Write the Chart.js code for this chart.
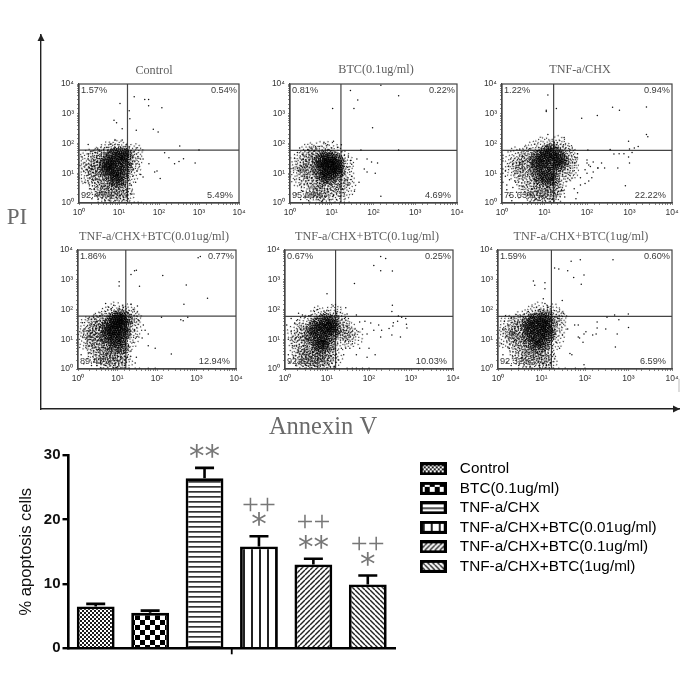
<!DOCTYPE html>
<html><head><meta charset="utf-8">
<script src="https://cdn.jsdelivr.net/npm/chart.js@4"></script>
<style>
html,body{margin:0;padding:0;background:#fff;width:685px;height:685px;overflow:hidden}
canvas{position:absolute;display:block}
canvas.flow{filter:blur(.45px)}
canvas.bars{filter:blur(.35px)}
</style></head><body>
<script>
// ---------- bar chart data ----------
const categories=["Control","BTC(0.1ug/ml)","TNF-a/CHX","TNF-a/CHX+BTC(0.01ug/ml)","TNF-a/CHX+BTC(0.1ug/ml)","TNF-a/CHX+BTC(1ug/ml)"];
const apoptosis=[6.5,5.5,26.4,15.8,13.0,9.9];
const errorTop=[6.9,5.85,28.0,17.4,13.9,11.3];
const upperMarks=["","","","++","++","++"];
const lowerMarks=["","","**","*","**","*"];
const barTicks=[0,10,20,30];

// ---------- flow panels ----------
const panelTitles=["Control","BTC(0.1ug/ml)","TNF-a/CHX","TNF-a/CHX+BTC(0.01ug/ml)","TNF-a/CHX+BTC(0.1ug/ml)","TNF-a/CHX+BTC(1ug/ml)"];
const upperLeft=["1.57%","0.81%","1.22%","1.86%","0.67%","1.59%"];
const upperRight=["0.54%","0.22%","0.94%","0.77%","0.25%","0.60%"];
const lowerLeft=["92.40%","95.68%","75.63%","89.43%","92.82%","92.32%"];
const lowerRight=["5.49%","4.69%","22.22%","12.94%","10.03%","6.59%"];
const gateX=[16.3,16.6,16.4,16.2,16.0,16.9];
const gateY=[60,59,59,60,59,59];

const controlCore=[5,13,5,24,6,9,6,17,6,33,7,6.5,7,12,7,22,7,42,9,8,9,15,9,28,9,46,9,5.5,12,10,12,19,12,34,12,47,12,6.5,15,14,15,26,15,40,4.5,18];
const controlMid=[2.5,8,2.5,20,3,4,3,12,3,30,4,2.5,4,7,4,40,6,3,6,2,9,3,9,2,12,3.5,14,2.2,20,10,20,25,22,45,3.5,18,1.6,10,1.7,28,10,60,5,50];
const controlDots=[24,3700,44,3000,55,3000,55,1860,118,1600,10.6,2200,18,1260,7.5,610,8.7,500,18.7,680,27,280,72,300,95,245,12,316,330,83,138,49,177,33,410,31,245,21,316,25,800,22,89,12,78,11,107,6.6,40,7.5,40,30,56,21,1000,60,1.7,93,
1.2,35,1.3,12,1.4,5,1.5,20,1.6,2,1.7,45,1.8,9,1.9,3,2,55,2,14,2.1,1.4,2.2,6,2.3,28,2.4,3,2.5,50,2.6,11,2.7,1.8,2.8,38,3,1.3,3,6,3.2,60,3.3,2.2,3.5,9,3.7,48,3.8,1.5,4,3.5,4.2,65,4.5,1.2,4.8,2.2,5,75,5.5,3,6,95,6,1.4,7,1.8,7.5,70,8,130,8,1.2,9,3.8,10,90,10,1.6,11,75,12,130,13,1.3,13,2.6,14,4,15,1.8,15,90,16,3,17,1.4,17,7,18,70,20,4,20,18,21,2,22,8,22,35,23,14,24,55,25,26,26,5,27,70,28,12,30,32,32,20,35,9,24,1.05,30,1.05,36,1.04,6,1.05,10,1.05,14,1.04,3,1.05,18,1.05];

const btcCore=[4.5,15,5,26,5.5,10,6,20,6,33,7,13,7,8,7,26,8,38,9,16,9,10,9,28,9,7,11,20,11,12,11,33,13,9,13,16,13,27,15,22,15,12,8,19,6,6.5];
const btcMid=[2.5,9,2.5,22,3,3.5,3,14,3.5,32,4,6,4,2,5,3,7,2.4,9,3.5,12,2,14,5,20,9,20,25,22,3,3,45,1.6,8,1.6,24,10,55,5,50];
const btcDots=[150,9000,42,2900,400,4000,10.5,1500,34,1500,95,340,28,6000,1.7,70,400,60,150,1.7,110,10,70,11,90,24,125,22,70,30,60,14,45,5,35,2.5,50,60,40,30,30,20,25,38,27,11,
1.2,15,1.3,32,1.3,6,1.4,2,1.5,50,1.6,12,1.7,4,1.8,1.3,1.9,28,2,42,2,2.5,2.2,8,2.3,1.5,2.4,18,2.6,4.5,2.8,60,2.8,1.2,3,2,3.2,38,3.3,7,3.6,1.5,3.8,55,4,3,4.2,70,4.4,1.6,5,80,5,2,6,1.2,6,3.5,6.5,110,7,1.6,7,65,8,2.8,8,90,9,1.3,10,4,10,70,11,1.8,11,120,12,5,13,2.8,13,1.3,14,75,15,4,15,1.7,16,6,17,90,18,12,18,3,20,2,20,40,22,6,24,16,26,4,28,27,30,8,3,1.05,6,1.05,9,1.05,12,1.05,16,1.05,20,1.05,26,1.05];

const tnfCore=[6,14,6,26,7,9,7,20,7,36,9,12,9,24,9,42,11,8,11,17,11,32,11,52,14,10,14,21,14,42,14,60,18,14,18,28,18,48,23,20,23,34,26,26,12,6,16,6.5,8,6.5];
const tnfMid=[3,8,3,22,4,4,4,14,4,35,5,2.5,5,55,7,3,7,1.6,10,3.5,10,1.6,14,3,14,1.5,18,3,20,4,28,10,34,22,34,42,28,60,20,80,10,75,2,12,2,35,38,14];
const tnfDots=[12,4300,11,1300,11,1200,19,1500,75,700,175,880,400,1650,580,1300,2500,1700,2500,200,2700,170,12,200,19,90,17,110,29,160,105,60,350,63,950,120,1000,65,1300,70,1600,80,740,45,430,44,570,45,950,35,1150,50,1000,22,530,15,260,15,220,22,180,15,120,17,100,22,800,3.8,40,60,20,70,28,90,22,60,8,50,5,44,1.7,
1.2,6,1.3,15,1.3,55,1.4,2.5,1.5,30,1.6,9,1.7,1.5,1.8,4,1.9,18,2,60,2.2,2.2,2.3,7,2.4,26,2.6,1.3,2.8,5,3,50,3,1.8,3.3,12,3.5,3,3.5,70,4,1.3,4,90,4.5,2.1,5,110,5.5,6,6,1.5,6,70,7,130,7,2.5,8,1.2,8,4,9,100,10,2,10,140,11,5.5,12,1.2,12,90,13,3,14,180,15,2.1,15,5,16,1.4,17,110,19,1.8,20,2.6,21,5,22,140,24,8,25,3,26,100,28,1.6,30,7,30,55,33,3,35,30,38,8,40,15,40,60,45,12,50,35,20,1.05,26,1.05,32,1.05,40,1.05,5,1.05,10,1.05,14,1.05];

const lowCore=[5,12,5,23,6,7,6,16,6,32,7,10,7,22,7,42,9,6,9,12,9,24,9,52,9,38,11,8,11,16,11,30,11,48,11,60,13,5.5,13,11,13,22,13,38,15,16,15,30,16,50,8,17];
const lowMid=[2.5,7,2.5,18,3,3.5,3,10,3,30,4,2.3,4,6,4,40,6,2.8,6,1.6,9,3,9,1.8,12,3.5,14,2,20,9,22,22,22,45,17,75,10,85,3.5,18,1.7,9,1.7,25,5,55];
const lowDots=[1100,5500,1250,6000,140,1400,22,1500,30,2100,27,2000,11,850,11,620,36,600,550,660,480,150,1900,240,5,160,6,120,8,140,14,120,25,100,22,150,32,130,600,55,400,45,460,42,130,55,230,3.2,60,6,90,5,50,20,45,30,35,42,60,15,42,11,30,2.5,28,1.6,
1.2,3,1.3,12,1.3,36,1.4,1.5,1.5,22,1.6,6,1.7,2.2,1.8,50,1.9,12,2,3.5,2,30,2.2,1.3,2.3,6,2.5,55,2.6,2.1,2.8,15,3,1.3,3,40,3.3,4.5,3.5,60,3.7,1.6,4,9,4,70,4.5,2.6,5,1.3,5,85,5.5,3.3,6,1.7,6.5,70,7,105,7,3.5,8,1.3,8,2.3,9,85,10,3.4,10,1.2,11,110,12,2.4,13,1.6,13,90,15,3.5,15,1.3,16,4.5,18,2.5,19,6,20,14,22,4,24,35,25,8,27,20,30,12,33,45,4,1.05,8,1.05,12,1.05,16,1.05,20,1.05,28,1.05,36,1.05,60,1.05,90,1.05];

const midCore=[4,14,4.5,24,5,10,5.5,18,5.5,32,6,7,7,12,7,22,7,40,8,8,9,16,9,28,9,46,10,11,11,22,11,36,11,6.5,13,15,13,28,14,42,15,22,8,5.5,6,5.2];
const midMid=[2,6,2,18,2.5,3,2.5,10,3,2,3,28,3.5,5,3.5,16,4,2.3,5,3,5,1.6,7,3,7,1.6,10,3.5,10,1.8,13,2.4,20,10,22,22,20,40,30,18,40,11,14,65,6,60];
const midDots=[190,6000,250,5200,130,3000,190,2000,360,1950,45,750,10,340,14,130,360,140,350,85,28,115,30,70,50,65,16,88,2.1,75,2.6,65,4,60,6,100,500,60,600,55,750,50,780,32,800,24,480,40,380,36,300,23,170,30,110,35,80,40,60,38,350,14,560,12,370,28,200,20,130,20,90,15,190,12,70,22,55,18,45,14,40,7,60,5,100,5,140,3,35,5,50,3,90,2.5,28,5,30,28,
1.1,30,1.2,10,1.2,3,1.3,1.7,1.4,18,1.4,50,1.5,6,1.6,2.5,1.7,35,1.8,1.3,1.8,11,2,45,2.1,4,2.2,1.6,2.4,22,2.6,2,2.8,6,3,55,3.2,1.3,3.3,3,3.6,10,4,1.4,4.2,65,4.5,3.5,5,1.3,5,85,6,2.1,6,1.2,7,70,8,1.3,8,2.5,9,80,9,3.8,11,1.4,11,90,12,2.8,13,1.6,14,4.5,15,1.2,16,3,17,75,18,7,19,2,20,16,22,5,24,30,25,3,26,50,28,9,30,1.05,40,1.05,50,1.05,70,1.05,100,1.05,8,1.05,15,1.05,3,1.05];

const highCore=[5,13,5,24,5.5,8,6,18,6,34,7,6.5,7,12,7,24,7,46,9,5.5,9,10,9,18,9,32,9,52,11,7,11,14,11,26,11,42,13,10,13,20,13,36,13,55,15,15,15,28,5,40];
const highMid=[2.5,8,2.5,20,3,4,3,13,3,30,4,2.5,4,7,4,45,6,3,6,1.8,9,3.3,9,1.7,12,3,14,2,20,9,21,24,22,45,17,75,10,85,3.5,18,1.6,10,1.6,28,6,65];
const highDots=[48,4200,78,4700,440,4700,20,2500,25,2300,40,2000,55,1200,95,1450,82,700,7,650,6.5,900,12,800,12,500,11,230,12,160,14,120,30,200,32,75,480,65,990,70,320,55,600,45,190,38,190,24,180,15,150,14,95,15,70,30,40,22,58,30,75,11,90,8,105,18,70,12,300,22,550,15,500,5.5,1000,25,45,3.3,50,3,95,1.4,
1.2,7,1.3,22,1.3,3,1.4,40,1.5,12,1.6,1.7,1.7,30,1.8,5,2,1.3,2,50,2.1,16,2.2,2.6,2.4,9,2.6,1.5,2.8,36,3,1.3,3,6,3.3,60,3.5,2.4,3.7,16,4,1.4,4,70,4.5,4,5,1.8,5,85,5.5,1.2,6,2.5,7,1.5,7,75,8,3.6,9,1.3,9,100,10,2.4,11,1.5,11,90,12,4,13,1.3,14,2.8,14,120,15,5,16,1.6,17,90,18,6,19,3,20,15,22,8,23,30,25,50,26,5,3,1.05,6,1.05,9,1.05,12,1.05,15,1.05,19,1.05,25,1.05,35,1.05,60,1.05,100,1.05];

const coreSets=[controlCore,btcCore,tnfCore,lowCore,midCore,highCore];
const midSets=[controlMid,btcMid,tnfMid,lowMid,midMid,highMid];
const dotSets=[controlDots,btcDots,tnfDots,lowDots,midDots,highDots];

// ---------- layout (pixels, not data) ----------
const panelBox=[[79,84,161,119],[290,84,168,119],[502,84,171,119],[78,250,159,119],[285,250,169,119],[498,250,175,119]];
const titleAt=[[154,71],[376,70],[580,70],[154,237],[367,237],[581,237]];
// stipple texture stamped at each density point (style, drawn by the library as a point image)
const stippleWide=[3,11,4,6,4,16,5,9,6,3,6,13,6,20,7,7,8,11,8,17,9,4,9,14,9,21,10,8,10,11,11,2,11,18,12,6,12,13,12,15,13,10,13,22,14,4,14,17,15,8,15,12,16,2,16,15,16,20,17,6,17,11,18,9,18,17,19,4,19,13,20,7,20,15,21,11,22,9];
const stippleCore=[1,5,1,8,2,3,2,7,2,10,3,1,3,5,3,9,3,12,4,3,4,7,4,11,5,1,5,5,5,9,5,13,6,3,6,7,6,10,7,1,7,5,7,8,7,12,8,3,8,6,8,10,9,1,9,4,9,8,9,12,10,3,10,6,10,10,11,2,11,5,11,9,11,12,12,4,12,7,12,10,13,6,13,8];

const pairs=a=>{const o=[];for(let i=0;i<a.length;i+=2)o.push({x:a[i],y:a[i+1]});return o;};
function sprite(size,list,color){const c=document.createElement('canvas');c.width=c.height=size;const g=c.getContext('2d');g.fillStyle=color;for(let i=0;i<list.length;i+=2)g.fillRect(list[i],list[i+1],1.15,1.15);return c;}
const wideSprite=sprite(24,stippleWide,'rgba(10,10,10,.9)');
const coreSprite=sprite(15,stippleCore,'#000');
const turn=ctx=>ctx.dataIndex*67;
const SUP=["\u2070","\u00b9","\u00b2","\u00b3","\u2074"];

function addCanvas(x,y,w,h,cls){const c=document.createElement('canvas');c.width=w;c.height=h;c.style.left=x+'px';c.style.top=y+'px';c.style.width=w+'px';c.style.height=h+'px';if(cls)c.className=cls;document.body.appendChild(c);return c;}

// ---------- big frame with arrows ----------
const frameWords=["PI","Annexin V"];
const framePlugin={id:'frame',afterDraw(ch){const g=ch.ctx,a=ch.chartArea;g.save();g.fillStyle='#222';
 g.beginPath();g.moveTo(a.left,a.top-1);g.lineTo(a.left-3.5,a.top+6);g.lineTo(a.left+3.5,a.top+6);g.fill();
 g.beginPath();g.moveTo(a.right+1,a.bottom);g.lineTo(a.right-6,a.bottom-3.5);g.lineTo(a.right-6,a.bottom+3.5);g.fill();
 g.fillStyle='#6a6a6a';g.textBaseline='middle';g.textAlign='center';
 g.font='23px "Liberation Serif"';g.fillText(frameWords[0],17,218);
 g.font='24.5px "Liberation Serif"';g.fillText(frameWords[1],323,428);
 g.strokeStyle='#bbb';g.lineWidth=1;g.beginPath();g.moveTo(679,379);g.lineTo(679,392);g.stroke();
 g.restore();}};
new Chart(addCanvas(0,0,685,440),{type:'scatter',data:{datasets:[{data:[]}]},plugins:[framePlugin],options:{
 responsive:false,animation:false,devicePixelRatio:1,
 layout:{padding:{left:41,top:35,right:6,bottom:31}},
 plugins:{legend:{display:false},tooltip:{enabled:false}},
 scales:{
  x:{min:0,max:1,afterFit:s=>{s.height=0},ticks:{display:false},grid:{display:false},border:{color:'#222',width:1.4}},
  y:{min:0,max:1,afterFit:s=>{s.width=0},ticks:{display:false},grid:{display:false},border:{color:'#222',width:1.4}}
 }}});

// ---------- six flow panels ----------
panelBox.forEach((b,i)=>{
 const LP=30,TP=22,RP=12,BP=20;
 const labelPlugin={id:'pl'+i,afterDraw(ch){const g=ch.ctx,a=ch.chartArea;g.save();
  g.strokeStyle='#444';g.lineWidth=1.2;g.strokeRect(a.left,a.top,a.right-a.left,a.bottom-a.top);
  g.font='9.2px "Liberation Sans"';g.fillStyle='#3a3a3a';g.textBaseline='middle';
  g.textAlign='left';g.fillText(upperLeft[i],a.left+2,a.top+6);g.fillText(lowerLeft[i],a.left+2,a.bottom-8);
  g.textAlign='right';g.fillText(upperRight[i],a.right-2,a.top+6);g.fillText(lowerRight[i],a.right-6,a.bottom-8);
  g.font='12.2px "Liberation Serif"';g.fillStyle='#5e5e5e';g.textAlign='center';
  g.fillText(panelTitles[i],titleAt[i][0]-(b[0]-LP),titleAt[i][1]-(b[1]-TP));
  g.restore();}};
 const logTick={
  font:{family:'"Liberation Sans"',size:8.5},color:'#333',autoSkip:false,maxRotation:0,minRotation:0,padding:3,
  callback(v){const n=Math.log10(v);return Number.isInteger(+n.toFixed(8))?'10'+SUP[Math.round(n)]:'';}
 };
 const axis={type:'logarithmic',min:1,max:10000,ticks:logTick,
  grid:{drawOnChartArea:false,tickLength:2,color:'#555',lineWidth:.7},border:{color:'#444',width:1.2}};
 new Chart(addCanvas(b[0]-LP,b[1]-TP,b[2]+LP+RP,b[3]+TP+BP,'flow'),{type:'scatter',
  data:{datasets:[
   {data:pairs(midSets[i]),pointStyle:wideSprite,pointRotation:turn,pointRadius:12},
   {data:pairs(dotSets[i]),pointRadius:.75,backgroundColor:'#111',borderWidth:0},
   {data:pairs(coreSets[i]),pointStyle:coreSprite,pointRotation:turn,pointRadius:7},
   {data:[{x:gateX[i],y:1},{x:gateX[i],y:10000}],showLine:true,pointRadius:0,borderColor:'#444',borderWidth:1.2},
   {data:[{x:1,y:gateY[i]},{x:10000,y:gateY[i]}],showLine:true,pointRadius:0,borderColor:'#444',borderWidth:1.2}
  ]},plugins:[labelPlugin],options:{
  responsive:false,animation:false,devicePixelRatio:1,
  layout:{padding:{left:0,top:TP,right:RP,bottom:0}},
  plugins:{legend:{display:false},tooltip:{enabled:false}},
  scales:{
   x:{...axis,afterFit:s=>{s.height=BP}},
   y:{...axis,afterFit:s=>{s.width=LP}}
  }}});
});

// ---------- bar chart ----------
function tile(w,h,draw){const c=document.createElement('canvas');c.width=w;c.height=h;const g=c.getContext('2d');g.fillStyle='#fff';g.fillRect(0,0,w,h);draw(g,w,h);return c;}
const tiles=[
 tile(4,4,g=>{g.fillStyle='#1c1c1c';g.fillRect(0,0,2,2);g.fillRect(2,2,2,2);}),
 tile(10,10,g=>{g.fillStyle='#000';g.fillRect(0,0,5,5);g.fillRect(5,5,5,5);}),
 tile(5,5,g=>{g.fillStyle='#333';g.fillRect(0,1,5,1.7);}),
 tile(8,8,g=>{g.fillStyle='#222';g.fillRect(3,0,2,8);}),
 tile(5,5,g=>{g.strokeStyle='#222';g.lineWidth=1.4;[-5,0,5].forEach(d=>{g.beginPath();g.moveTo(d,5);g.lineTo(d+5,0);g.stroke();});}),
 tile(5,5,g=>{g.strokeStyle='#222';g.lineWidth=1.4;[-5,0,5].forEach(d=>{g.beginPath();g.moveTo(d,0);g.lineTo(d+5,5);g.stroke();});})
];
const probe=document.createElement('canvas').getContext('2d');
const fills=tiles.map(t=>probe.createPattern(t,'repeat'));
const swatches=tiles.map(t=>{const c=document.createElement('canvas');c.width=27;c.height=13;const g=c.getContext('2d');g.fillStyle=g.createPattern(t,'repeat');g.fillRect(0,0,27,13);g.strokeStyle='#000';g.lineWidth=3;g.strokeRect(1.5,1.5,24,10);return c;});

const barPlugin={id:'barExtras',
 afterLayout(ch){const l=ch.legend;l.left=410;l.right=685;l.top=17;l.bottom=240;},
 afterDatasetsDraw(ch){const g=ch.ctx,m=ch.getDatasetMeta(0),ys=ch.scales.y,a=ch.chartArea;g.save();
  g.strokeStyle='#000';g.lineWidth=2.6;
  m.data.forEach((bar,i)=>{const y0=ys.getPixelForValue(apoptosis[i]),y1=ys.getPixelForValue(errorTop[i]);
   g.beginPath();g.moveTo(bar.x,y0);g.lineTo(bar.x,y1);g.moveTo(bar.x-9.5,y1);g.lineTo(bar.x+9.5,y1);g.stroke();});
  const cx=(a.left+a.right)/2;g.lineWidth=1.8;g.beginPath();g.moveTo(cx,a.bottom);g.lineTo(cx,a.bottom+6);g.stroke();
  g.fillStyle='#777';g.textAlign='center';g.textBaseline='middle';
  m.data.forEach((bar,i)=>{const y1=ys.getPixelForValue(errorTop[i]);
   g.font='31px "DejaVu Sans"';
   if(lowerMarks[i]){g.fillText(lowerMarks[i],bar.x,y1-10);}
   g.font='30px "Liberation Serif"';
   if(upperMarks[i]){g.fillText(upperMarks[i],bar.x,y1-(i===3?30:i===4?36:30));}
  });
  g.restore();}};
new Chart(addCanvas(0,440,685,245,'bars'),{type:'bar',plugins:[barPlugin],
 data:{labels:categories,datasets:[{data:apoptosis,backgroundColor:fills,borderColor:'#000',borderWidth:2.8,barPercentage:.695,categoryPercentage:1}]},
 options:{responsive:false,animation:false,devicePixelRatio:1,
  layout:{padding:{left:0,top:15,right:290,bottom:0}},
  plugins:{tooltip:{enabled:false},
   legend:{position:'chartArea',align:'start',
    labels:{usePointStyle:true,pointStyleWidth:38,padding:4.2,color:'#222',font:{family:'"Liberation Sans"',size:15.3},
     generateLabels:()=>categories.map((t,i)=>({text:t,pointStyle:swatches[i],fillStyle:'#fff',strokeStyle:'#000',lineWidth:0,index:i}))}}},
  scales:{
   x:{afterFit:s=>{s.height=36.7},ticks:{display:false},grid:{display:false},border:{color:'#000',width:2.4}},
   y:{min:0,max:30,afterFit:s=>{s.width=68.5},afterBuildTicks:s=>{s.ticks=barTicks.map(v=>({value:v}))},
    ticks:{color:'#111',padding:2,font:{family:'"Liberation Sans"',size:15,weight:'bold'}},
    grid:{drawOnChartArea:false,tickLength:6,color:'#000',lineWidth:2.4},border:{color:'#000',width:2.6},
    title:{display:true,text:'% apoptosis cells',color:'#111',padding:{top:17,bottom:0},font:{family:'"Liberation Sans"',size:16.5,weight:'normal'}}}
  }}});
</script>
</body></html>
